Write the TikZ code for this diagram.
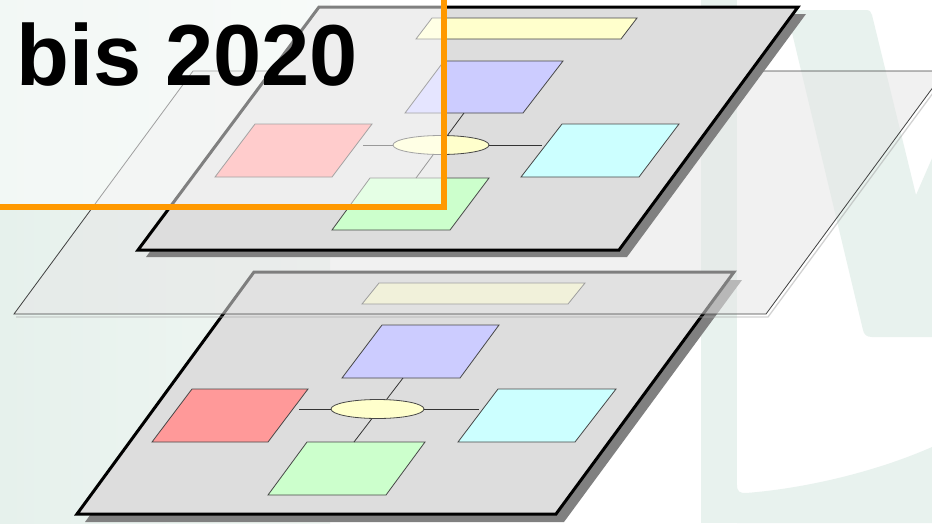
\documentclass[tikz,border=0pt]{standalone}
\usepackage{fontspec}
\setmainfont{Liberation Sans}
\usetikzlibrary{shapes.geometric}
\definecolor{wm}{HTML}{E8F2EE}
\definecolor{wmL}{HTML}{E6F1EC}
\definecolor{wmR}{HTML}{F0F6F3}
\definecolor{planegray}{HTML}{DDDDDD}
\definecolor{shadowgray}{HTML}{808080}
\definecolor{pinkc}{HTML}{FF9999}
\definecolor{bluec}{HTML}{CCCCFF}
\definecolor{cyanc}{HTML}{CCFFFF}
\definecolor{greenc}{HTML}{CCFFCC}
\definecolor{yellowc}{HTML}{FFFFCC}
\definecolor{orangec}{HTML}{FF9900}
\definecolor{midplane}{HTML}{E6E6E6}
\begin{document}
\begin{tikzpicture}[x=1pt,y=-1pt,line join=miter,
  plane/.style={fill=planegray,draw=black,line width=3pt},
  planeshadow/.style={fill=shadowgray},
  elem/.style={draw=black!72,line width=0.8pt},
  link/.style={draw=black!80,line width=0.8pt},
  hub/.style={ellipse,draw=black!72,line width=0.8pt,fill=yellowc,inner sep=0pt},
  wmark/.style={fill=wm}]
\useasboundingbox (0,0) rectangle (932,523);
% ---------- background watermark ----------
\fill[white] (0,0) rectangle (932,523);
\shade[left color=wmL,right color=wmR] (0,0) rectangle (330,523);
\fill[wmark] (701,0) rectangle (737,523);
\fill[wmark] (737,523) -- (737,485) .. controls (737,492) and (740,493) .. (746,493)
  .. controls (810,488) and (880,470) .. (932,447) -- (932,523) -- cycle;
\fill[wmark] (796,10) -- (866,10) .. controls (870,10) and (871,12) .. (872,15)
  -- (916,195) -- (940,140) -- (940,337) -- (872,337)
  .. controls (866,337) and (864,334) .. (863,330)
  -- (789,20) .. controls (788,14) and (790,10) .. (796,10) -- cycle;
% ---------- bottom layer ----------
\fill[planeshadow] (262,280) -- (742,280) -- (564,522) -- (85,522) -- cycle;
\draw[plane] (254,272) -- (734,272) -- (556,514) -- (77,514) -- cycle;
\draw[elem,fill=yellowc] (379,283) -- (585,283) -- (568,304) -- (362,304) -- cycle;
\draw[elem,fill=bluec] (382,325) -- (499,325) -- (460,378) -- (342,378) -- cycle;
\draw[elem,fill=pinkc] (192,389) -- (308,389) -- (268,442) -- (152,442) -- cycle;
\draw[elem,fill=cyanc] (498,389) -- (616,389) -- (575,442) -- (458,442) -- cycle;
\draw[elem,fill=greenc] (307,442) -- (425,442) -- (386,495) -- (268,495) -- cycle;
\coordinate (bBlue) at (403,378);
\coordinate (bGreen) at (354,442);
\coordinate (bPink) at (299,409);
\coordinate (bCyan) at (479,409);
\draw[link] (bBlue) -- (bGreen);
\node[hub,minimum width=93pt,minimum height=19pt] (bHub) at (377.5,409) {};
\draw[link] (bPink) -- (bHub.west);
\draw[link] (bHub.east) -- (bCyan);
% ---------- middle (transparent) layer ----------
\draw[shadowgray!70,line width=1.3pt,opacity=0.5] (947,74) -- (768,317) -- (16,317);
\fill[midplane,fill opacity=0.55] (193,71) -- (945,71) -- (766,314) -- (14,314) -- cycle;
\draw[black!75,line width=0.8pt] (193,71) -- (945,71) -- (766,314) -- (14,314) -- cycle;
% ---------- top layer ----------
\fill[planeshadow] (327,14) -- (806,14) -- (627,257) -- (146,257) -- cycle;
\draw[plane] (319,7) -- (798,7) -- (619,250) -- (138,250) -- cycle;
\draw[elem,fill=yellowc] (432,18) -- (637,18) -- (621,39) -- (416,39) -- cycle;
\draw[elem,fill=bluec] (444,61) -- (563,61) -- (523,113) -- (405,113) -- cycle;
\draw[elem,fill=pinkc] (255,124) -- (372,124) -- (332,177) -- (215,177) -- cycle;
\draw[elem,fill=cyanc] (562,124) -- (679,124) -- (639,177) -- (521,177) -- cycle;
\draw[elem,fill=greenc] (370,178) -- (489,178) -- (450,230) -- (332,230) -- cycle;
\coordinate (tBlue) at (464,113);
\coordinate (tGreen) at (416,178);
\coordinate (tPink) at (363,145);
\coordinate (tCyan) at (542,145);
\draw[link] (tBlue) -- (tGreen);
\node[hub,minimum width=96pt,minimum height=19pt] (tHub) at (441,145) {};
\draw[link] (tPink) -- (tHub.west);
\draw[link] (tHub.east) -- (tCyan);
% ---------- highlight box ----------
\fill[white,opacity=0.5] (0,0) rectangle (444,207);
\draw[orangec,line width=6pt] (-10,207) -- (444,207) -- (444,-10);
\node[anchor=base west,inner sep=0pt,font=\fontsize{86.6pt}{90pt}\selectfont\bfseries] (title) at (16,85) {bis 2020};
\end{tikzpicture}
\end{document}
